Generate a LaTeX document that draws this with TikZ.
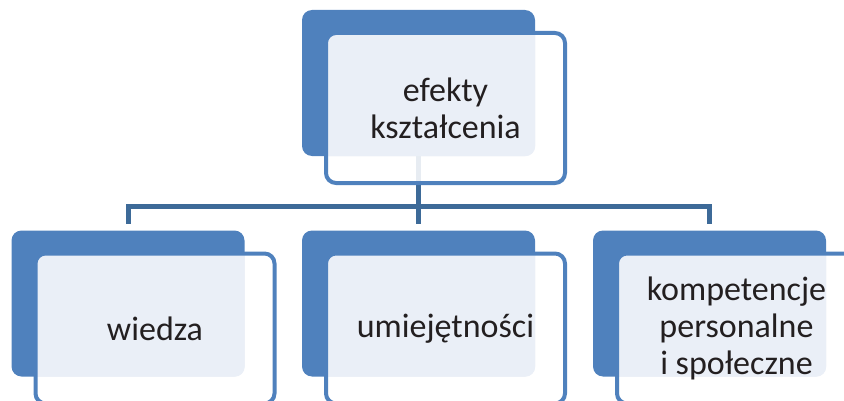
\documentclass[tikz,border=0pt]{standalone}
\usepackage{fontspec}
\setmainfont{Carlito}
\usetikzlibrary{calc}
\definecolor{accent}{HTML}{4F81BD}
\definecolor{tintcol}{HTML}{EAEFF7}
\definecolor{conncol}{HTML}{3D6A98}
\definecolor{textcol}{HTML}{231F20}
\pgfdeclarelayer{connlayer}
\pgfdeclarelayer{backlayer}
\pgfdeclarelayer{tintlayer}
\pgfsetlayers{connlayer,backlayer,tintlayer,main}
\tikzset{
  backbox/.style={rectangle, rounded corners=10pt, fill=accent, draw=none,
    minimum width=233pt, minimum height=146pt, inner sep=0pt},
  frontbox/.style={rectangle, rounded corners=10pt, draw=accent, line width=4pt,
    minimum width=239pt, minimum height=150pt, inner sep=0pt, align=center,
    font=\fontsize{34}{37}\selectfont, text=textcol},
  conn/.style={draw=conncol, line width=5pt, line join=miter},
}
\begin{document}
\begin{tikzpicture}[x=1pt,y=1pt]
\useasboundingbox (0,0) rectangle (844,400);
\clip (0,0) rectangle (844,400);
\begin{pgfonlayer}{backlayer}
\node[backbox] (b0) at (418.5,317) {};
\node[backbox] (b1) at (128,96.5) {};
\node[backbox] (b2) at (418.5,96.5) {};
\node[backbox] (b3) at (709.5,96.5) {};
\end{pgfonlayer}
\node[frontbox] (f0) at ($(b0)+(27,-25)$) {efekty\\kształcenia};
\node[frontbox] (f1) at ($(b1)+(27,-25)$) {wiedza};
\node[frontbox] (f2) at ($(b2)+(27,-25)$) {umiejętności};
\node[frontbox] (f3) at ($(b3)+(27,-25)$) {kompetencje\\personalne\\i społeczne};
\begin{pgfonlayer}{tintlayer}
\foreach \i in {0,1,2,3}{
  \fill[white, fill opacity=0.88, rounded corners=8pt]
    ([shift={(2,2)}]f\i.south west) rectangle ([shift={(-2,-2)}]f\i.north east);
  \begin{scope}
    \clip[rounded corners=8pt]
      ([shift={(2,2)}]f\i.south west) rectangle ([shift={(-2,-2)}]f\i.north east);
    \fill[tintcol, rounded corners=10pt] (b\i.south west) rectangle (b\i.north east);
  \end{scope}
}
\end{pgfonlayer}
\begin{pgfonlayer}{connlayer}
\foreach \k in {1,2,3}{
  \draw[conn, shorten >=6pt] (b0.south) -- ++(0,-50) -| (b\k.north);
}
\end{pgfonlayer}
\end{tikzpicture}
\end{document}
